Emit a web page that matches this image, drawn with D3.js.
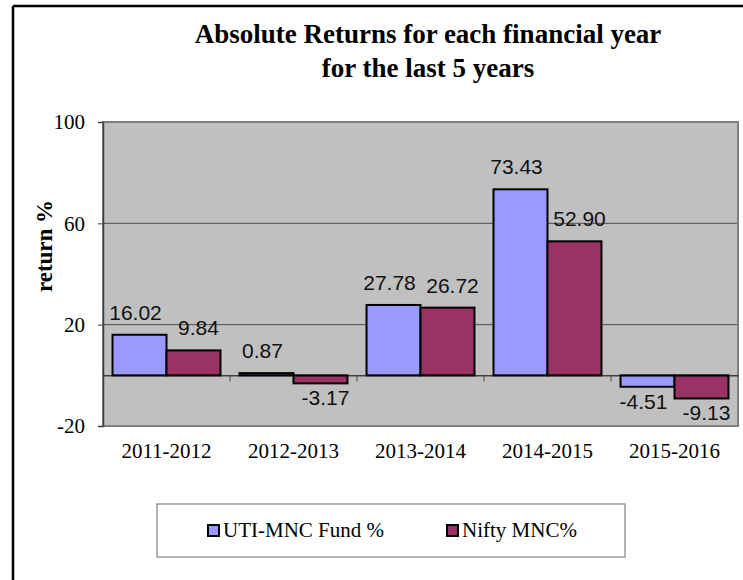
<!DOCTYPE html>
<html>
<head>
<meta charset="utf-8">
<script src="https://cdn.jsdelivr.net/npm/d3@7"></script>
<style>
  body { margin: 0; background: #fff; }
  svg { display: block; }
</style>
</head>
<body>
<svg class="chart"></svg>
<script>
// chart values
var years = ["2011-2012", "2012-2013", "2013-2014", "2014-2015", "2015-2016"];
var seriesNames = ["UTI-MNC Fund %", "Nifty MNC%"];
var utiMnc = [16.02, 0.87, 27.78, 73.43, -4.51];
var niftyMnc = [9.84, -3.17, 26.72, 52.90, -9.13];
var yTicks = [-20, 20, 60, 100];
var titleLines = ["Absolute Returns for each financial year", "for the last 5 years"];

function show() {
    'use strict';
    var width = 743, height = 580;
    var plot = {left: 103, right: 738, top: 122, bottom: 426};
    var colors = ["#9999ff", "#993366"];
    var labelShift = [-4, 5];   // labels sit slightly apart from bar centres
    var serif = "'Liberation Serif', 'Times New Roman', serif";

    var svg = d3.select(".chart")
        .attr("width", width)
        .attr("height", height);

    // outer frame (only top and left edges are visible)
    svg.append("line").attr("x1", 13).attr("y1", 6).attr("x2", width).attr("y2", 6)
        .attr("stroke", "#000").attr("stroke-width", 2.5);
    svg.append("line").attr("x1", 13).attr("y1", 6).attr("x2", 13).attr("y2", height)
        .attr("stroke", "#000").attr("stroke-width", 2.5);

    // title
    svg.append("text")
        .attr("x", 428).attr("y", 43)
        .attr("text-anchor", "middle")
        .style("font-family", serif)
        .style("font-weight", "bold")
        .style("font-size", "27px")
        .selectAll("tspan").data(titleLines).enter()
        .append("tspan")
        .attr("x", 428)
        .attr("dy", function(d, i) { return i === 0 ? 0 : 34; })
        .text(function(d) { return d; });

    var x = d3.scaleBand().domain(years).range([plot.left, plot.right]);
    var xInner = d3.scaleBand().domain(seriesNames)
        .range([x.bandwidth() * 0.075, x.bandwidth() * 0.925]);
    var y = d3.scaleLinear().domain([-20, 100]).range([plot.bottom, plot.top]);

    // plot background
    svg.append("rect")
        .attr("x", plot.left).attr("y", plot.top)
        .attr("width", plot.right - plot.left).attr("height", plot.bottom - plot.top)
        .attr("fill", "#c0c0c0");

    // gridlines
    svg.append("g").selectAll("line")
        .data(yTicks.filter(function(t) { return t > -20 && t < 100; }))
        .enter().append("line")
        .attr("x1", plot.left).attr("x2", plot.right)
        .attr("y1", function(d) { return y(d); }).attr("y2", function(d) { return y(d); })
        .attr("stroke", "#4d4d4d").attr("stroke-width", 1);

    // plot border
    svg.append("rect")
        .attr("x", plot.left).attr("y", plot.top)
        .attr("width", plot.right - plot.left).attr("height", plot.bottom - plot.top)
        .attr("fill", "none").attr("stroke", "#808080").attr("stroke-width", 2);

    // y axis
    var yAxis = svg.append("g")
        .attr("transform", "translate(" + plot.left + ",0)")
        .call(d3.axisLeft(y).tickValues(yTicks).tickSize(5).tickPadding(13)
            .tickFormat(function(d) { return String(d); }));
    yAxis.select(".domain").attr("stroke", "#404040").attr("stroke-width", 1.5);
    yAxis.selectAll(".tick line").attr("stroke", "#404040");
    yAxis.selectAll("text")
        .style("font-family", serif)
        .style("font-size", "21px")
        .attr("fill", "#000");

    svg.append("text")
        .attr("transform", "translate(52,246) rotate(-90)")
        .attr("text-anchor", "middle")
        .style("font-family", serif)
        .style("font-weight", "bold")
        .style("font-size", "23px")
        .text("return %");

    // bars
    var rows = years.map(function(yr, i) {
        return {year: yr, values: [utiMnc[i], niftyMnc[i]]};
    });
    var groups = svg.append("g").selectAll("g")
        .data(rows).enter().append("g")
        .attr("transform", function(d) { return "translate(" + x(d.year) + ",0)"; });

    var cells = groups.selectAll("g")
        .data(function(d) {
            return d.values.map(function(v, j) { return {name: seriesNames[j], value: v, j: j}; });
        })
        .enter().append("g");

    cells.append("rect")
        .attr("x", function(d) { return xInner(d.name); })
        .attr("width", xInner.bandwidth())
        .attr("y", function(d) { return y(Math.max(0, d.value)); })
        .attr("height", function(d) { return Math.abs(y(d.value) - y(0)); })
        .attr("fill", function(d) { return colors[d.j]; })
        .attr("stroke", "#000").attr("stroke-width", 2);

    cells.append("text")
        .attr("x", function(d) { return xInner(d.name) + xInner.bandwidth() / 2 + labelShift[d.j]; })
        .attr("y", function(d) { return d.value >= 0 ? y(d.value) - 15 : y(d.value) + 22; })
        .attr("text-anchor", "middle")
        .style("font-family", "'Liberation Sans', Arial, sans-serif")
        .style("font-size", "21px")
        .attr("fill", "#111")
        .text(function(d) { return d.value.toFixed(2); });

    // zero line with category separators
    var xAxis = svg.append("g")
        .attr("transform", "translate(0," + y(0) + ")")
        .call(d3.axisBottom(x).tickValues([]).tickSizeOuter(0));
    xAxis.select(".domain").attr("stroke", "#000").attr("stroke-width", 1);
    xAxis.selectAll(".sep").data(years.slice(1)).enter().append("line")
        .attr("class", "sep")
        .attr("x1", function(d) { return x(d); }).attr("x2", function(d) { return x(d); })
        .attr("y1", 0).attr("y2", 6)
        .attr("stroke", "#404040");

    // category labels
    svg.append("g").selectAll("text")
        .data(years).enter().append("text")
        .attr("x", function(d) { return x(d) + x.bandwidth() / 2; })
        .attr("y", 458)
        .attr("text-anchor", "middle")
        .style("font-family", serif)
        .style("font-size", "21px")
        .text(function(d) { return d; });

    // legend
    svg.append("rect")
        .attr("x", 157).attr("y", 504).attr("width", 468).attr("height", 53)
        .attr("fill", "#fff").attr("stroke", "#808080").attr("stroke-width", 1.2);
    var legendX = [208, 447];
    var legend = svg.append("g").selectAll("g")
        .data(seriesNames).enter().append("g")
        .attr("transform", function(d, i) { return "translate(" + legendX[i] + ",525)"; });
    legend.append("rect")
        .attr("width", 11).attr("height", 11)
        .attr("fill", function(d, i) { return colors[i]; })
        .attr("stroke", "#000").attr("stroke-width", 2);
    legend.append("text")
        .attr("x", 15).attr("y", 12)
        .style("font-family", serif)
        .style("font-size", "21px")
        .text(function(d) { return d; });
}
show();
</script>
</body>
</html>
